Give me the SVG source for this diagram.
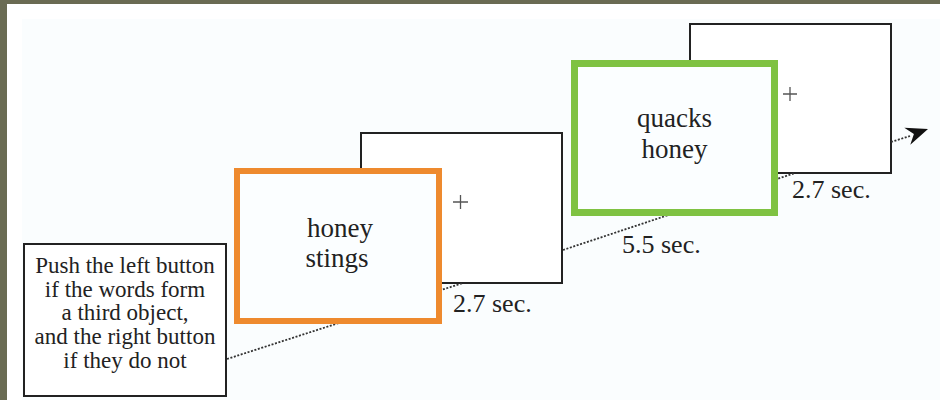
<svg xmlns="http://www.w3.org/2000/svg" width="940" height="400" viewBox="0 0 940 400">
<style>
  .frame { fill: #ffffff; stroke: #222222; stroke-width: 2; }
  .orange { fill: #fbfeff; stroke: #ee8a2e; stroke-width: 6; }
  .green { fill: #fbfeff; stroke: #7fc242; stroke-width: 7; }
  .note { fill: #ffffff; stroke: #222222; stroke-width: 2; }
  .dots { fill: none; stroke: #333333; stroke-width: 1.8; stroke-dasharray: 2 1.6; }
  .plus { fill: none; stroke: #555555; stroke-width: 1.3; }
  .word { font-family: "Liberation Serif", "Times New Roman", serif; font-size: 27px; fill: #222222; text-anchor: middle; }
  .time { font-family: "Liberation Serif", "Times New Roman", serif; font-size: 26px; fill: #222222; }
  .inst { font-family: "Liberation Serif", "Times New Roman", serif; font-size: 23px; fill: #222222; text-anchor: middle; }
</style>
<rect x="0" y="0" width="940" height="400" fill="#ffffff"/>
<rect x="22" y="19" width="918" height="381" fill="#fafdfe"/>
<rect x="0" y="0" width="940" height="4" fill="#6a6b53"/>
<rect x="0" y="0" width="7" height="400" fill="#6a6b53"/>

<g id="fixation1">
  <rect class="frame" x="361" y="133" width="201" height="150"/>
  <path class="plus" d="M453,202 H468 M460.5,195 V209"/>
</g>
<g id="fixation2">
  <rect class="frame" x="690" y="24" width="201" height="149"/>
  <path class="plus" d="M783,94 H797 M790,87 V101"/>
</g>

<g id="connectors">
  <line class="dots" x1="227" y1="359" x2="463" y2="283"/>
  <line class="dots" x1="563" y1="250" x2="795" y2="173"/>
  <line class="dots" x1="891" y1="142" x2="910" y2="136"/>
  <polygon points="928,129 904.3,127.8 913.9,134 910.3,144.8" fill="#111111"/>
</g>

<g id="stimulus1">
  <rect class="orange" x="237" y="171" width="202" height="150"/>
  <text class="word" x="340" y="237">honey</text>
  <text class="word" x="337" y="267">stings</text>
</g>
<g id="stimulus2">
  <rect class="green" x="574.5" y="63.5" width="200" height="149"/>
  <text class="word" x="674.5" y="127">quacks</text>
  <text class="word" x="674.5" y="158">honey</text>
</g>

<g id="instruction">
  <rect class="note" x="24" y="244" width="202" height="152"/>
  <text class="inst" x="125" y="273">Push the left button</text>
  <text class="inst" x="125" y="297">if the words form</text>
  <text class="inst" x="125" y="320">a third object,</text>
  <text class="inst" x="125" y="344">and the right button</text>
  <text class="inst" x="125" y="368">if they do not</text>
</g>

<g id="labels">
  <text class="time" x="453" y="312">2.7 sec.</text>
  <text class="time" x="622" y="253">5.5 sec.</text>
  <text class="time" x="792" y="198">2.7 sec.</text>
</g>
</svg>
